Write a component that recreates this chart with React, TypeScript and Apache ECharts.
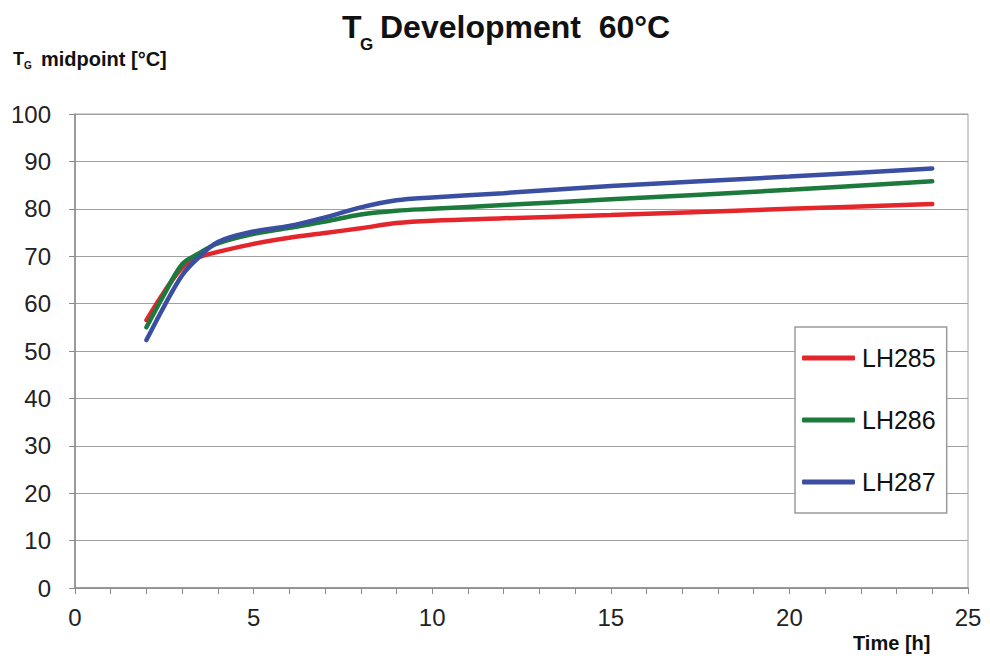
import React, { useEffect, useRef } from "react";
import * as echarts from "echarts";

const seriesNames = ["LH285", "LH286", "LH287"];
const colors = ["#e3262b", "#1c7a3c", "#3a4ea2"];

const lh285: [number, number][] = [
  [2, 56.5], [2.5, 62.5], [3, 67.6], [3.4, 69.6], [4, 70.9], [5, 72.6], [6, 73.9],
  [7, 74.9], [8, 75.9], [9, 77.0], [10, 77.5], [12, 78.0], [15, 78.7], [20, 80.0], [24, 81.0],
];
const lh286: [number, number][] = [
  [2, 55.0], [2.5, 62.0], [3, 68.3], [3.4, 70.3], [4, 72.7], [5, 74.7], [6, 76.0],
  [7, 77.3], [8, 78.8], [9, 79.6], [10, 80.0], [12, 80.8], [15, 82.0], [20, 84.0], [24, 85.8],
];
const lh287: [number, number][] = [
  [2, 52.3], [2.5, 59.5], [3, 66.0], [3.4, 69.3], [4, 73.0], [5, 75.2], [6, 76.4],
  [7, 78.2], [8, 80.3], [9, 81.8], [10, 82.4], [12, 83.3], [15, 84.8], [20, 86.8], [24, 88.5],
];
const allData = [lh285, lh286, lh287];

const xTicks = [0, 5, 10, 15, 20, 25];
const yTicks = [0, 10, 20, 30, 40, 50, 60, 70, 80, 90, 100];

export default function App() {
  const ref = useRef<HTMLDivElement>(null);
  useEffect(() => {
    if (!ref.current) return;
    const chart = echarts.init(ref.current, null, { renderer: "svg" });
    const font = "'Liberation Sans', Arial, sans-serif";
    const txt = (text: string, x: number, y: number, size: number) => ({
      type: "text",
      x,
      y,
      style: {
        text,
        fontSize: size,
        fontWeight: "bold",
        fill: "#111",
        fontFamily: font,
        verticalAlign: "middle",
        align: "left",
      },
    });
    chart.setOption({
      animation: false,
      backgroundColor: "#ffffff",
      textStyle: { fontFamily: font },
      graphic: [
        txt("T", 342, 27, 32),
        txt("G", 360, 44, 17),
        txt("Development  60°C", 380, 27, 32),
        txt("T", 13, 59, 18),
        txt("G", 24, 65, 10),
        txt("midpoint [°C]", 41, 59, 20),
        txt("Time [h]", 853, 643, 20),
      ],
      legend: {
        orient: "vertical",
        left: 795,
        top: 327,
        padding: [16, 11, 16, 7],
        itemGap: 32,
        itemWidth: 53,
        itemHeight: 5,
        borderColor: "#9a9a9a",
        borderWidth: 1.5,
        backgroundColor: "#ffffff",
        icon: "roundRect",
        textStyle: { fontSize: 25, lineHeight: 30, color: "#111", fontFamily: font, padding: [0, 0, 0, 2] },
        data: seriesNames.map((n, i) => ({ name: n, itemStyle: { color: colors[i] } })),
      },
      grid: {
        left: 75,
        right: 22,
        top: 114,
        bottom: 68,
        show: true,
        borderColor: "#a0a0a0",
        borderWidth: 1,
      },
      xAxis: {
        type: "value",
        min: xTicks[0],
        max: xTicks[xTicks.length - 1],
        interval: 5,
        axisLine: { show: true, lineStyle: { color: "#8a8a8a", width: 1.5 } },
        axisTick: { show: true, length: 6, lineStyle: { color: "#8a8a8a" } },
        minorTick: { show: true, splitNumber: 5, length: 6, lineStyle: { color: "#8a8a8a" } },
        splitLine: { show: false },
        axisLabel: { fontSize: 24, color: "#222", margin: 17, fontFamily: font },
      },
      yAxis: {
        type: "value",
        min: yTicks[0],
        max: yTicks[yTicks.length - 1],
        interval: 10,
        axisLine: { show: true, lineStyle: { color: "#8a8a8a", width: 1.5 } },
        axisTick: { show: true, length: 6, lineStyle: { color: "#8a8a8a" } },
        splitLine: { show: true, lineStyle: { color: "#a0a0a0", width: 1.2 } },
        axisLabel: { fontSize: 24, color: "#222", margin: 24, fontFamily: font },
      },
      series: seriesNames.map((n, i) => ({
        name: n,
        type: "line",
        data: allData[i],
        smooth: 0.35,
        showSymbol: false,
        symbol: "none",
        lineStyle: { color: colors[i], width: 4.5, cap: "round" },
        itemStyle: { color: colors[i] },
        z: 2 + i,
      })),
    });
    return () => chart.dispose();
  }, []);
  return <div ref={ref} style={{ width: 990, height: 656, position: "absolute", left: 0, top: 0 }} />;
}
